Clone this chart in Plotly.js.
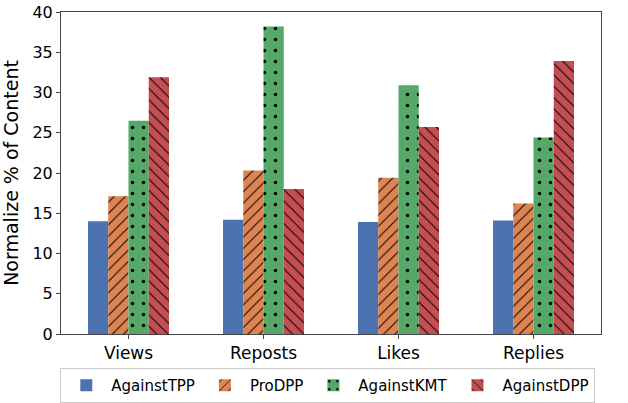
<!DOCTYPE html>
<html><head><meta charset="utf-8">
<script src="https://cdn.plot.ly/plotly-3.0.1.min.js"></script>
<style>html,body{margin:0;padding:0;background:#fff}#chart{width:628px;height:403px}</style>
</head><body><div id="chart"></div>
<script>
const categories = ['Views', 'Reposts', 'Likes', 'Replies'];
const againstTPP = [14.0, 14.2, 13.9, 14.1];
const proDPP = [17.1, 20.3, 19.4, 16.2];
const againstKMT = [26.5, 38.2, 30.9, 24.4];
const againstDPP = [31.9, 18.0, 25.7, 33.9];

const seriesNames = ['AgainstTPP', 'ProDPP', 'AgainstKMT', 'AgainstDPP'];
const seriesValues = [againstTPP, proDPP, againstKMT, againstDPP];
const colors = ['#4c72b0', '#dd8452', '#55a868', '#c44e52'];
const shapes = ['', '/', '.', '\\'];

const traces = seriesNames.map((n, i) => ({
  type: 'bar', name: n, x: categories, y: seriesValues[i],
  marker: {
    color: colors[i], line: {width: 0},
    pattern: {shape: shapes[i], fgcolor: '#000', bgcolor: colors[i], fillmode: 'replace',
      size: shapes[i]==='.' ? 11 : 8, solidity: shapes[i]==='.' ? 0.08 : 0.12}
  }
}));

const layout = {
  width: 628, height: 403,
  margin: {l: 61, r: 27, t: 12, b: 69, autoexpand: false},
  paper_bgcolor: '#fff', plot_bgcolor: '#fff',
  font: {family: 'DejaVu Sans', color: '#000'},
  barmode: 'group', bargap: 0.4, bargroupgap: 0,
  showlegend: true,
  legend: {orientation: 'h', xref: 'container', yref: 'container', x: 0.522, xanchor: 'center', y: -0.005, yanchor: 'bottom',
    bordercolor: '#ccc', borderwidth: 1, font: {size: 15}, itemwidth: 40},
  xaxis: {showline: true, linecolor: '#444', linewidth: 1, mirror: true,
    ticks: 'outside', ticklen: 4, tickcolor: '#444', tickfont: {size: 17}, showgrid: false},
  yaxis: {range: [0, 40], dtick: 5, showline: true, linecolor: '#444', linewidth: 1, mirror: true,
    ticks: 'outside', ticklen: 4, tickcolor: '#444', tickfont: {size: 16}, showgrid: false, zeroline: false,
    title: {text: 'Normalize % of Content', font: {size: 19}, standoff: 8}}
};
Plotly.newPlot('chart', traces, layout, {displayModeBar: false, staticPlot: true});
</script></body></html>
